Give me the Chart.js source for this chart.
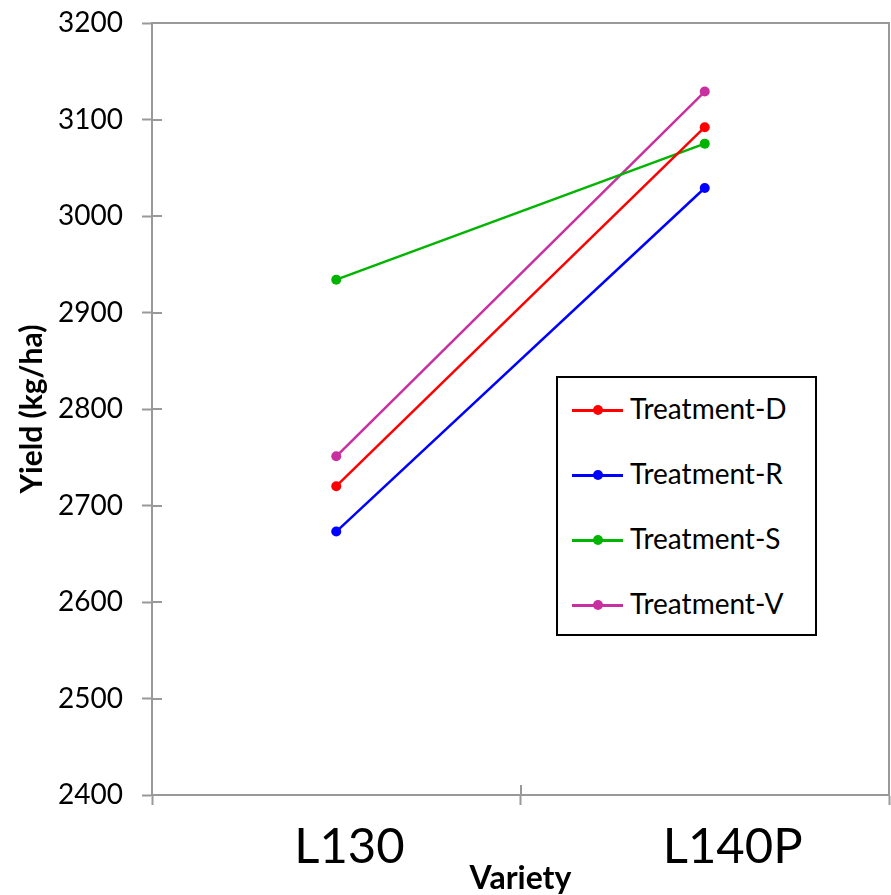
<!DOCTYPE html>
<html>
<head>
<meta charset="utf-8">
<script src="https://cdn.jsdelivr.net/npm/chart.js@4.4.1/dist/chart.umd.min.js"></script>
<style>
    html, body { margin: 0; padding: 0; background: #fff; }
    #wrap { position: relative; width: 891px; height: 895px; overflow: hidden; }
    #legend {
        position: absolute; left: 556px; top: 376px; width: 257px; height: 256px;
        border: 2px solid #000; background: #fff; font-family: Lato, sans-serif; font-size: 28px;
    }
    .row { position: absolute; left: 0; height: 30px; line-height: 30px; white-space: nowrap; }
    .mark { position: absolute; left: 14px; top: 14px; width: 51px; height: 2.5px; }
    .dot { position: absolute; left: 21px; top: -4px; width: 10px; height: 10px; border-radius: 50%; }
    .txt { position: absolute; left: 72px; top: -2px; color: #000; }
</style>
</head>
<body>
<div id="wrap">
    <canvas id="myChart" width="894" height="895"></canvas>
    <div id="legend"></div>
</div>
<script>
var varieties = ['L130', 'L140P'];
var treatments = ['Treatment-D', 'Treatment-R', 'Treatment-S', 'Treatment-V'];
var yieldD = [2720, 3092];
var yieldR = [2673, 3029];
var yieldS = [2934, 3075];
var yieldV = [2751, 3129];
var colours = ['#ff0000', '#0000ff', '#00b400', '#c9309f'];
var yTicks = [2400, 2500, 2600, 2700, 2800, 2900, 3000, 3100, 3200];

document.addEventListener('DOMContentLoaded', function(){
    var series = [yieldD, yieldR, yieldS, yieldV];
    var datasets = series.map(function(vals, i){
        return {
            label: treatments[i],
            data: vals,
            borderColor: colours[i],
            backgroundColor: colours[i],
            borderWidth: 2.5,
            pointRadius: 5,
            pointHoverRadius: 5,
            pointBorderWidth: 0,
            tension: 0
        };
    });

    var axisGrey = '#999999';

    // inner half of the crossing tick marks, the top/right frame,
    // and the category labels (set a bit left of their point, like the original)
    var frame = {
        id: 'frame',
        afterDraw: function(chart){
            var ctx = chart.ctx, a = chart.chartArea;
            var x = chart.scales.x, y = chart.scales.y;
            ctx.save();
            ctx.strokeStyle = axisGrey;
            ctx.lineWidth = 2;
            ctx.beginPath();
            y.ticks.forEach(function(t, i){
                var py = Math.round(y.getPixelForTick(i));
                ctx.moveTo(a.left, py);
                ctx.lineTo(a.left + 10, py);
            });
            for (var i = 0; i <= varieties.length; i++) {
                var px = Math.round(x.getPixelForValue(i - 0.5));
                ctx.moveTo(px, a.bottom);
                ctx.lineTo(px, a.bottom - 10);
            }
            ctx.moveTo(a.left, a.top);
            ctx.lineTo(a.right, a.top);
            ctx.lineTo(a.right, a.bottom);
            ctx.stroke();

            ctx.fillStyle = '#000';
            ctx.font = '49px Lato';
            ctx.textAlign = 'left';
            ctx.textBaseline = 'alphabetic';
            varieties.forEach(function(lab, i){
                ctx.fillText(lab, x.getPixelForValue(i) - 42, a.bottom + 68);
            });
            ctx.restore();
        }
    };

    var ctx = document.getElementById('myChart').getContext('2d');
    var myChart = new Chart(ctx, {
        type: 'line',
        data: { labels: varieties, datasets: datasets },
        options: {
            responsive: false,
            animation: false,
            layout: { padding: { top: 23, right: 0, left: 0, bottom: 0 } },
            plugins: {
                legend: { display: false },
                tooltip: { enabled: false }
            },
            scales: {
                x: {
                    offset: true,
                    grid: { offset: true, drawOnChartArea: false, tickLength: 10, color: axisGrey, tickWidth: 2 },
                    border: { color: axisGrey, width: 2 },
                    ticks: { display: false },
                    title: { display: true, text: 'Variety', color: '#000', padding: { top: 0, bottom: 0 },
                             font: { family: 'Lato', size: 32, weight: 'bold', lineHeight: 1.0 } },
                    afterFit: function(s){ s.height = 100; }
                },
                y: {
                    min: 2400,
                    max: 3200,
                    afterBuildTicks: function(s){ s.ticks = yTicks.map(function(v){ return { value: v }; }); },
                    grid: { drawOnChartArea: false, tickLength: 10, color: axisGrey, tickWidth: 2 },
                    border: { color: axisGrey, width: 2 },
                    ticks: { color: '#000', padding: 19, font: { family: 'Lato', size: 28, lineHeight: 0.1 },
                             callback: function(v){ return String(v); } },
                    title: { display: true, text: 'Yield (kg/ha)', color: '#000', padding: { top: 17, bottom: 0 },
                             font: { family: 'Lato', size: 30, weight: 'bold', lineHeight: 1.0 } },
                    afterFit: function(s){ s.width = 152; }
                }
            }
        },
        plugins: [frame]
    });

    // legend inside the plot, built from the datasets
    var leg = document.getElementById('legend');
    var rowTops = [34, 99, 164, 229];
    myChart.data.datasets.forEach(function(ds, i){
        var row = document.createElement('div');
        row.className = 'row';
        row.style.top = (rowTops[i] - 17) + 'px';
        row.innerHTML = '<div class="mark" style="background:' + ds.borderColor + '">' +
            '<div class="dot" style="background:' + ds.borderColor + '"></div></div>' +
            '<div class="txt">' + ds.label + '</div>';
        leg.appendChild(row);
    });
});
</script>
</body>
</html>
